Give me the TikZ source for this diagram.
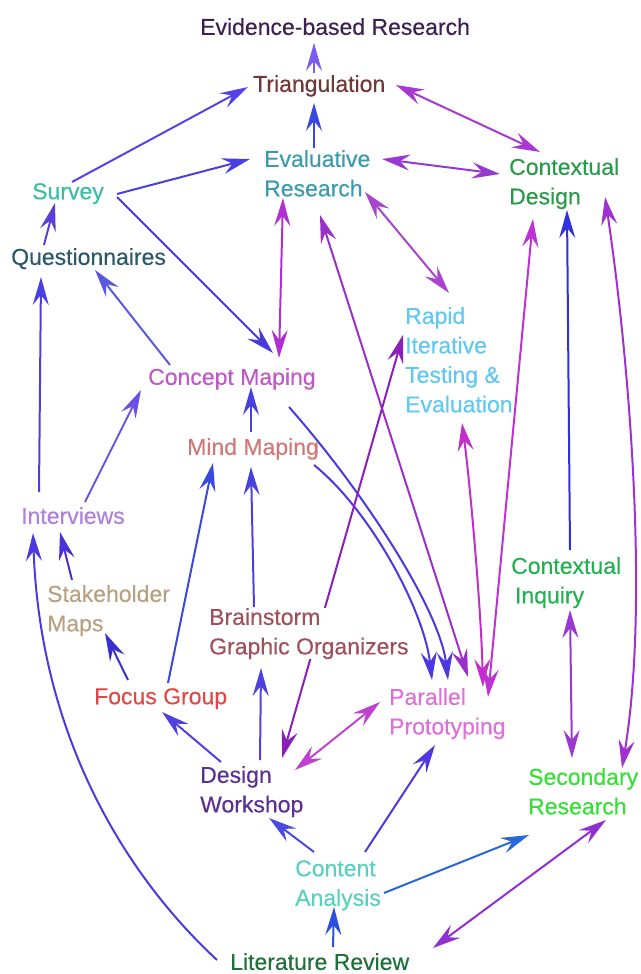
\documentclass[tikz,border=0pt]{standalone}
\usepackage{fontspec}
\setmainfont{Liberation Sans}
\newfontfamily\lblfont{Liberation Sans}[FakeBold=0.35]
\usetikzlibrary{arrows.meta,backgrounds}
\tikzset{
  lbl/.style={anchor=north west, inner sep=0pt, align=left, font=\lblfont\fontsize{23}{29.5}\selectfont},
  tip/.tip={Stealth[length=28pt,width=16pt,inset=10pt]},
  arr/.style={-tip, line width=2pt},
  darr/.style={tip-tip, line width=2pt},
}
\begin{document}
\begin{tikzpicture}[x=1pt,y=-1pt]
\useasboundingbox (0,0) rectangle (640,974);
% nodes
\node[lbl] (ev) at (200,18) {\color[HTML]{3C2150}Evidence-based Research};
\node[lbl] (tri) at (253,75) {\color[HTML]{6E3838}Triangulation};
\node[lbl] (eva) at (264,150) {\color[HTML]{3A9AB0}Evaluative\\\color[HTML]{3A9AB0}Research};
\node[lbl] (cd) at (509,158) {\color[HTML]{2A9A4A}Contextual\\\color[HTML]{2A9A4A}Design};
\node[lbl] (sur) at (32,183) {\color[HTML]{38C0A0}Survey};
\node[lbl] (que) at (11,248) {\color[HTML]{2A5868}Questionnaires};
\node[lbl] (rap) at (405,307) {\color[HTML]{5EC8F0}Rapid\\\color[HTML]{5EC8F0}Iterative\\\color[HTML]{5EC8F0}Testing \&\\\color[HTML]{5EC8F0}Evaluation};
\node[lbl] (con) at (148,368) {\color[HTML]{C058C8}Concept Maping};
\node[lbl] (mind) at (187,438) {\color[HTML]{D07878}Mind Maping};
\node[lbl] (int) at (21,507) {\color[HTML]{B080D8}Interviews};
\node[lbl] (sta) at (47,585) {\color[HTML]{B8A080}Stakeholder\\\color[HTML]{B8A080}Maps};
\node[lbl, fill=white] (bra) at (209,608) {\color[HTML]{A0505A}Brainstorm\\\color[HTML]{A0505A}Graphic Organizers};
\node[lbl] (ci) at (511,557) {\color[HTML]{22B050}Contextual\\\color[HTML]{22B050}\,Inquiry};
\node[lbl] (foc) at (94,688) {\color[HTML]{E04848}Focus Group};
\node[lbl] (par) at (389,688) {\color[HTML]{E070D8}Parallel\\\color[HTML]{E070D8}Prototyping};
\node[lbl] (dw) at (200,766) {\color[HTML]{5A3090}Design\\\color[HTML]{5A3090}Workshop};
\node[lbl] (sec) at (528,768) {\color[HTML]{33E033}Secondary\\\color[HTML]{33E033}Research};
\node[lbl] (ca) at (295,860) {\color[HTML]{58D0C0}Content\\\color[HTML]{58D0C0}Analysis};
\node[lbl] (lit) at (230,953) {\color[HTML]{20703A}Literature Review};
% edges
\begin{scope}[on background layer]
\draw[arr, draw={rgb,255:red,122;green,92;blue,240}] ([shift={(61,-2)}]tri.north west) -- ([shift={(114,25)}]ev.north west);
\draw[arr, draw={rgb,255:red,56;green,72;blue,224}] ([shift={(50,-2)}]eva.north west) -- ([shift={(61,28)}]tri.north west);
\draw[arr, draw={rgb,255:red,84;green,68;blue,232}] ([shift={(40,-1)}]sur.north west) -- ([shift={(-5,12)}]tri.north west);
\draw[arr, draw={rgb,255:red,74;green,64;blue,224}] ([shift={(85,11)}]sur.north west) -- ([shift={(-14,9)}]eva.north west);
\draw[arr, draw={rgb,255:red,74;green,56;blue,216}] ([shift={(85,14)}]sur.north west) -- ([shift={(125,-15)}]con.north west);
\draw[darr, draw={rgb,255:red,168;green,56;blue,208}] ([shift={(143,10)}]tri.north west) -- ([shift={(31,-6)}]cd.north west);
\draw[darr, draw={rgb,255:red,152;green,56;blue,208}] ([shift={(118,9)}]eva.north west) -- ([shift={(-9,16)}]cd.north west);
\draw[darr, draw={rgb,255:red,168;green,68;blue,208}] ([shift={(101,42)}]eva.north west) -- ([shift={(44,-14)}]rap.north west);
\draw[darr, draw={rgb,255:red,176;green,48;blue,208}] ([shift={(19,48)}]eva.north west) -- ([shift={(131,-10)}]con.north west);
\draw[arr, draw={rgb,255:red,90;green,64;blue,216}] ([shift={(33,-3)}]que.north west) -- ([shift={(23,20)}]sur.north west);
\draw[arr, draw={rgb,255:red,88;green,88;blue,224}] ([shift={(22,-3)}]con.north west) -- ([shift={(84,22)}]que.north west);
\draw[arr, draw={rgb,255:red,74;green,64;blue,224}] ([shift={(18,-15)}]int.north west) -- ([shift={(30,29)}]que.north west);
\draw[arr, draw={rgb,255:red,106;green,80;blue,232}] ([shift={(64,-5)}]int.north west) -- ([shift={(-7,22)}]con.north west);
\draw[arr, draw={rgb,255:red,74;green,64;blue,224}] ([shift={(64,-6)}]mind.north west) -- ([shift={(103,19)}]con.north west);
\draw[arr, draw={rgb,255:red,74;green,56;blue,224}] ([shift={(141,39)}]con.north west) .. controls +(75,85) and +(-8,-70) .. ([shift={(59,-8)}]par.north west);
\draw[arr, draw={rgb,255:red,74;green,56;blue,224}] ([shift={(127,27)}]mind.north west) .. controls +(56,45) and +(-8,-70) .. ([shift={(43,-8)}]par.north west);
\draw[darr, draw={rgb,255:red,154;green,48;blue,200}] ([shift={(56,65)}]eva.north west) -- ([shift={(79,-11)}]par.north west);
\draw[darr, draw={rgb,255:red,192;green,48;blue,216}] ([shift={(24,61)}]cd.north west) -- ([shift={(99,9)}]par.north west);
\draw[darr, draw={rgb,255:red,192;green,48;blue,200}] ([shift={(57,116)}]rap.north west) .. controls +(8,60) and +(-2,-80) .. ([shift={(94,-1)}]par.north west);
\draw[darr, draw={rgb,255:red,138;green,32;blue,184}] ([shift={(82,-8)}]dw.north west) -- ([shift={(-2,28)}]rap.north west);
\draw[arr, draw={rgb,255:red,74;green,64;blue,224}] ([shift={(45,-1)}]bra.north west) -- ([shift={(64,29)}]mind.north west);
\draw[arr, draw={rgb,255:red,80;green,64;blue,224}] ([shift={(60,-6)}]dw.north west) -- ([shift={(52,60)}]bra.north west);
\draw[arr, draw={rgb,255:red,80;green,64;blue,224}] ([shift={(21,-4)}]dw.north west) -- ([shift={(68,24)}]foc.north west);
\draw[arr, draw={rgb,255:red,58;green,48;blue,208}] ([shift={(34,-8)}]foc.north west) -- ([shift={(58,48)}]sta.north west);
\draw[arr, draw={rgb,255:red,58;green,72;blue,224}] ([shift={(74,-5)}]foc.north west) -- ([shift={(26,25)}]mind.north west);
\draw[arr, draw={rgb,255:red,74;green,48;blue,216}] ([shift={(25,-5)}]sta.north west) -- ([shift={(39,25)}]int.north west);
\draw[arr, draw={rgb,255:red,74;green,58;blue,224}] ([shift={(-13,7)}]lit.north west) .. controls +(-97,-90) and +(7,197) .. ([shift={(12,26)}]int.north west);
\draw[darr, draw={rgb,255:red,192;green,64;blue,208}] ([shift={(95,4)}]dw.north west) -- ([shift={(-9,14)}]par.north west);
\draw[arr, draw={rgb,255:red,74;green,74;blue,224}] ([shift={(19,-8)}]ca.north west) -- ([shift={(69,52)}]dw.north west);
\draw[arr, draw={rgb,255:red,80;green,56;blue,224}] ([shift={(70,-8)}]ca.north west) -- ([shift={(46,57)}]par.north west);
\draw[arr, draw={rgb,255:red,42;green,104;blue,216}] ([shift={(89,33)}]ca.north west) -- ([shift={(1,67)}]sec.north west);
\draw[arr, draw={rgb,255:red,42;green,80;blue,224}] ([shift={(103,-6)}]lit.north west) -- ([shift={(39,47)}]ca.north west);
\draw[darr, draw={rgb,255:red,144;green,48;blue,208}] ([shift={(203,-5)}]lit.north west) -- ([shift={(78,52)}]sec.north west);
\draw[arr, draw={rgb,255:red,48;green,48;blue,224}] ([shift={(59,-7)}]ci.north west) -- ([shift={(58,52)}]cd.north west);
\draw[darr, draw={rgb,255:red,154;green,56;blue,208}] ([shift={(59,53)}]ci.north west) -- ([shift={(44,-10)}]sec.north west);
\draw[darr, draw={rgb,255:red,160;green,48;blue,208}] ([shift={(96,39)}]cd.north west) .. controls +(23,153) and +(28,-168) .. ([shift={(94,0)}]sec.north west);
\end{scope}
\end{tikzpicture}
\end{document}
